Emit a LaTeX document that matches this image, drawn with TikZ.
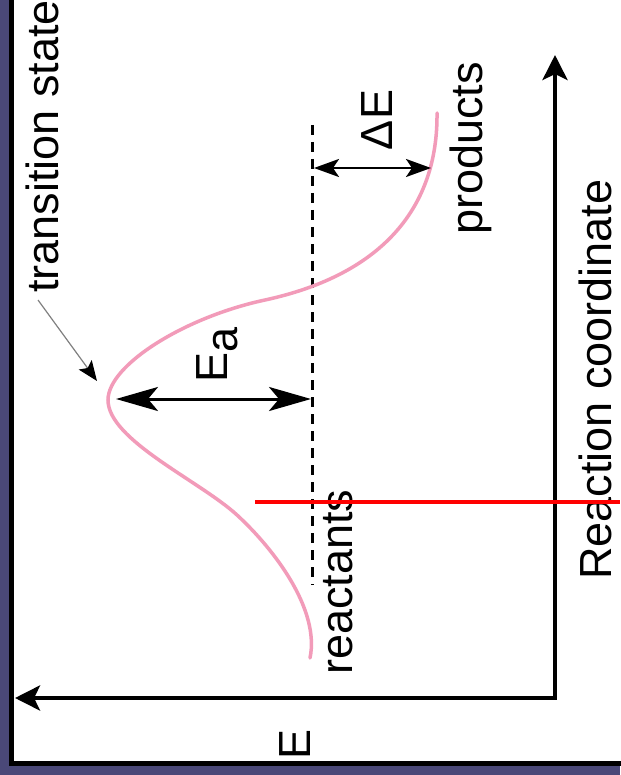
\documentclass[tikz,border=0pt]{standalone}
\usepackage{fontspec}
\setmainfont{Liberation Sans}
\usetikzlibrary{arrows.meta}

\definecolor{slateback}{RGB}{74,72,120}
\definecolor{curvepink}{RGB}{242,155,185}

\begin{document}
\begin{tikzpicture}[x=1pt, y=-1pt,
  lbl/.style={rotate=90, inner sep=0pt, font=\fontsize{45}{54}\selectfont},
  axis/.style={line width=4.5pt, line join=miter,
    {Stealth[length=25pt,width=25pt,inset=6pt]}-{Stealth[length=25pt,width=25pt,inset=6pt]}},
  gapbig/.style={line width=3pt,
    {Stealth[length=42pt,width=24pt,inset=10pt]}-{Stealth[length=42pt,width=24pt,inset=10pt]}},
  gapsmall/.style={line width=2.5pt,
    {Stealth[length=25pt,width=18pt,inset=6pt]}-{Stealth[length=25pt,width=18pt,inset=6pt]}}]
\useasboundingbox (0,0) rectangle (620,775);

% panel
\fill[slateback] (0,0) rectangle (620,775);
\filldraw[fill=white, draw=black, line width=5pt] (11.5,-20) rectangle (650,763);

% axes
\coordinate (corner) at (555,698);
\coordinate (rctip) at (555,55);
\coordinate (etip) at (15,698);
\draw[axis] (rctip) -- (corner) -- (etip);

% reactant level
\coordinate (dtop) at (312,125);
\coordinate (dbot) at (312,585);
\draw[line width=3pt, dash pattern=on 10pt off 7pt] (dtop) -- (dbot);

% energy profile
\coordinate (rstart) at (310,658);
\coordinate (rbend) at (237,515);
\coordinate (top) at (108,400);
\coordinate (pbend) at (265,300);
\coordinate (pend) at (437,113);
\draw[curvepink, line width=3.5pt, line cap=round]
  (rstart) .. controls (320,610) and (275,550) .. (rbend)
           .. controls (200,481) and (108,440) .. (top)
           .. controls (108,365) and (185,317) .. (pbend)
           .. controls (385,274) and (438,205) .. (pend);

% gaps
\coordinate (peak) at (116,399);
\coordinate (peakref) at (311,399);
\coordinate (prodref) at (314,168);
\coordinate (prod) at (431,168);
\draw[gapbig] (peak) -- (peakref);
\draw[gapsmall] (prodref) -- (prod);

% labels
\node[lbl, anchor=base west] (ts) at (58,293) {transition state};
\node[lbl, anchor=base west] (reac) at (352,675) {reactants};
\node[lbl, anchor=base west] (prods) at (482,235) {products};
\node[lbl, anchor=base west] (rc) at (611,580) {Reaction coordinate};
\node[lbl, anchor=base] (dE) at (392,120) {ΔE};
\node[lbl, anchor=base] (Ea) at (227,355) {E\raisebox{-10pt}{a}};
\node[lbl, anchor=base] (Elbl) at (310,744) {E};

% pointer to the transition state
\coordinate (tsfoot) at (38,300);
\coordinate (tstip) at (97,381);
\draw[gray, line width=1.2pt, -{Stealth[length=20pt,width=16pt,inset=4pt,black]}] (tsfoot) -- (tstip);

% red marker line
\coordinate (markl) at (255,502);
\coordinate (markr) at (620,502);
\draw[red, line width=4.5pt] (markl) -- (markr);
\end{tikzpicture}
\end{document}
